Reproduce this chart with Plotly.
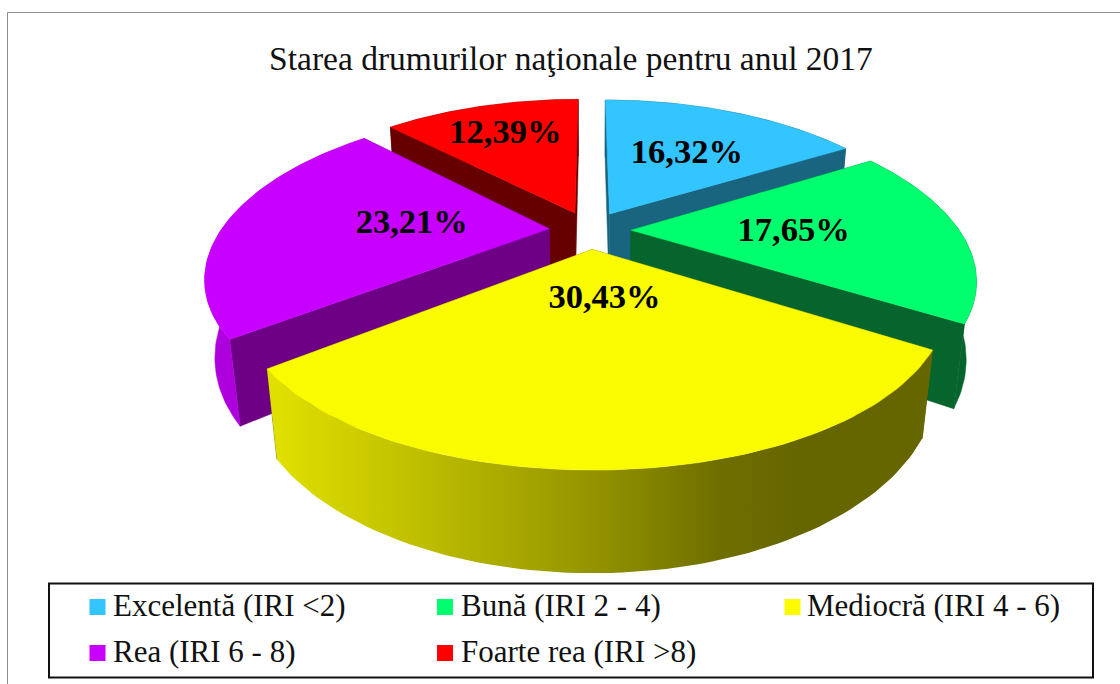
import numpy as np
import plotly.graph_objects as go

# --- data ---
categories = ["Excelentă (IRI <2)", "Bună (IRI 2 - 4)", "Mediocră (IRI 4 - 6)", "Rea (IRI 6 - 8)", "Foarte rea (IRI >8)"]
values = [16.32, 17.65, 30.43, 23.21, 12.39]
value_labels = ["16,32%", "17,65%", "30,43%", "23,21%", "12,39%"]
title_text = "Starea drumurilor naţionale pentru anul 2017"

# --- styles ---
top_colors = ["#33C5FF", "#00FF6E", "#FBFB00", "#C800FF", "#FF0000"]
radial_colors = ["#19647F", "#05652D", "#666600", "#6E0085", "#660000"]
outer_colors = ["#19647F", "#05652D", "#666600", "#AD00DC", "#660000"]
yellow_gradient = [[0, "#E2E200"], [0.25, "#BBBB00"], [0.5, "#929200"], [0.68, "#6E6E00"], [0.8, "#666600"], [1, "#666600"]]
label_radius = [0.555, 0.495, 0.27, 0.425, 0.70]
label_shift_x = [3, 0, 7, 0, 0]
label_shift_y = [2, 2, 3, 0, 1]
draw_order = [0, 4, 3, 1, 2]
FONT = "Liberation Serif"

# projection of the exploded disc
CX, CY, A, B, H = 590.0, 230.0, 328.0, 151.0, 73.0
KX, KY, Q, EXPLODE = 0.28, 0.26, 0.025, 0.125


def project(u, v, z):
    u, v = np.asarray(u, float), np.asarray(v, float)
    x = CX + A * u / (1 - KX * v + Q * z)
    y = CY + (B * v + H * z) / (1 - KY * v)
    return x, y


total = sum(values)
edges = np.concatenate([[0], np.cumsum(values)]) / total * 2 * np.pi
fig = go.Figure()


def poly(x, y, color, **kw):
    fig.add_trace(go.Scatter(x=list(x) + [x[0]], y=list(y) + [y[0]], mode="lines", fill="toself",
                             line=dict(width=0.5, color=color), fillcolor=color,
                             hoverinfo="skip", showlegend=False, **kw))


for i in draw_order:
    t0, t1 = edges[i], edges[i + 1]
    mid = (t0 + t1) / 2
    du, dv = EXPLODE * np.sin(mid), -EXPLODE * np.cos(mid)
    th = np.linspace(t0, t1, 80)
    au, av = du + np.sin(th), dv - np.cos(th)
    # radial walls
    for t in (t0, t1):
        cu, cv = du + np.sin(t), dv - np.cos(t)
        x0, y0 = project([du, cu], [dv, cv], 0)
        x1, y1 = project([cu, du], [cv, dv], 1)
        poly(np.r_[x0, x1], np.r_[y0, y1], radial_colors[i])
    # outer wall
    x0, y0 = project(au, av, 0)
    x1, y1 = project(au[::-1], av[::-1], 1)
    wx, wy = np.r_[x0, x1], np.r_[y0, y1]
    if i == 2:
        fig.add_trace(go.Scatter(x=list(wx) + [wx[0]], y=list(wy) + [wy[0]], mode="lines", fill="toself",
                                 line=dict(width=0),
                                 fillgradient=dict(type="horizontal", colorscale=yellow_gradient,
                                                   start=float(wx.min()), stop=float(wx.max())),
                                 hoverinfo="skip", showlegend=False))
    else:
        poly(wx, wy, outer_colors[i])
    # top face
    tx, ty = project(np.r_[du, au], np.r_[dv, av], 0)
    poly(tx, ty, top_colors[i])

# value labels
lx, ly = [], []
for i in range(len(values)):
    mid = (edges[i] + edges[i + 1]) / 2
    r = EXPLODE + label_radius[i]
    x, y = project(r * np.sin(mid), -r * np.cos(mid), 0)
    lx.append(float(x) + label_shift_x[i])
    ly.append(float(y) + label_shift_y[i])
fig.add_trace(go.Scatter(x=lx, y=ly, mode="text", text=value_labels, textposition="middle center",
                         textfont=dict(family=FONT, size=34.5, color="black", weight="bold"),
                         hoverinfo="skip", showlegend=False))

# legend
marker_x = [97.5, 445, 792.5, 97.5, 445]
text_x = [113, 461, 807, 113, 461]
legend_y = [607, 607, 607, 653, 653]
text_y = [608.5, 608.5, 608.5, 654.5, 654.5]
fig.add_trace(go.Scatter(x=marker_x, y=legend_y, mode="markers",
                         marker=dict(symbol="square", size=16, color=top_colors, line=dict(width=0)),
                         hoverinfo="skip", showlegend=False))
fig.add_trace(go.Scatter(x=text_x, y=text_y, mode="text", text=categories,
                         textposition="middle right",
                         textfont=dict(family=FONT, size=31, color="#111111"),
                         hoverinfo="skip", showlegend=False))

fig.update_layout(
    width=1120, height=684, margin=dict(l=0, r=0, t=0, b=0),
    paper_bgcolor="white", plot_bgcolor="white", showlegend=False,
    title=dict(text=title_text, x=571 / 1120, xanchor="center", y=1 - 58 / 684, yanchor="middle",
               font=dict(family=FONT, size=33.5, color="#111111")),
    xaxis=dict(range=[0, 1120], visible=False, fixedrange=True),
    yaxis=dict(range=[684, 0], visible=False, fixedrange=True),
    shapes=[
        dict(type="line", x0=7.5, x1=7.5, y0=12.5, y1=684, line=dict(color="#8C8C8C", width=1)),
        dict(type="line", x0=7.5, x1=1120, y0=12.5, y1=12.5, line=dict(color="#8C8C8C", width=1)),
        dict(type="rect", x0=49, x1=1093, y0=583.5, y1=677.5, line=dict(color="#111111", width=2), layer="below"),
    ],
)
fig.write_html("out.html", config={"displayModeBar": False},
               post_script="document.body.style.margin='0';document.body.style.overflow='hidden';")
